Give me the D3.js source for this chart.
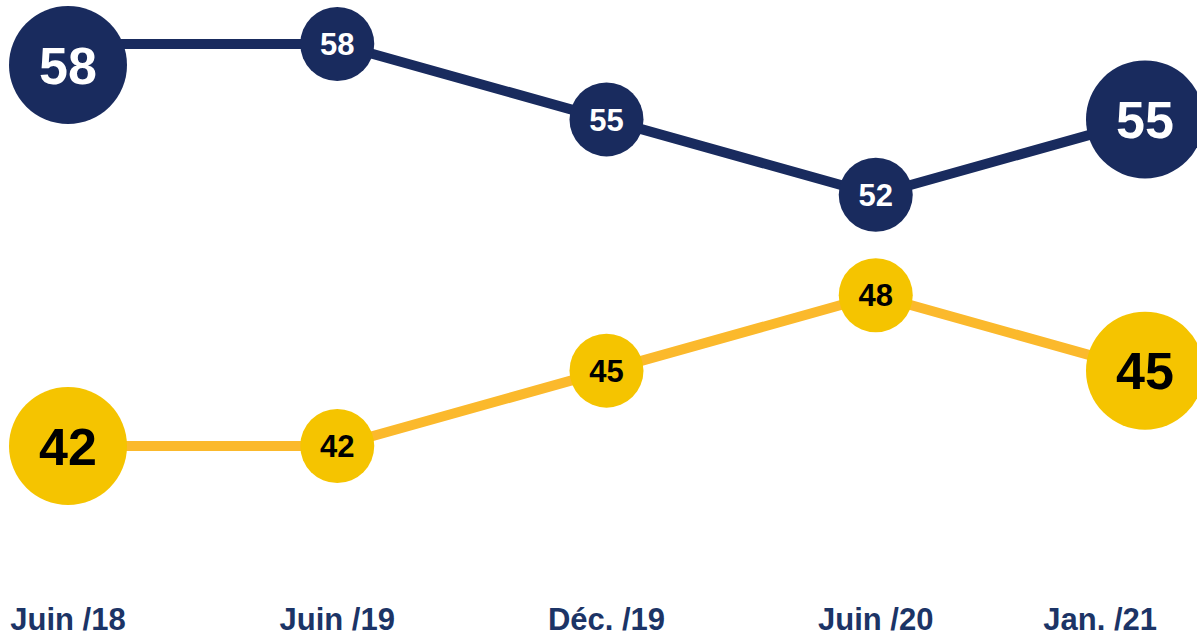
<!DOCTYPE html>
<html>
<head>
<meta charset="utf-8">
<script src="https://cdn.jsdelivr.net/npm/d3@7"></script>
<style>
    html, body { margin: 0; padding: 0; background: #ffffff; }
    svg { display: block; }
</style>
</head>
<body>
<div id="chart"></div>
<script>
// data
const periods = ["Juin /18", "Juin /19", "Déc. /19", "Juin /20", "Jan. /21"];
const navyValues = [58, 58, 55, 52, 55];
const yellowValues = [42, 42, 45, 48, 45];

const width = 1197;
const height = 638;
const margin = { top: 44, right: 52, bottom: 192, left: 68 };

const navy = "#192b5e";
const yellow = "#f5c400";
const yellowLine = "#fbb92c";
const labelColor = "#1c3466";

const bigRadius = 59;
const smallRadius = 37;

const x = d3.scalePoint()
    .domain(periods)
    .range([margin.left, width - margin.right]);

const y = d3.scaleLinear()
    .domain([42, 58])
    .range([height - margin.bottom, margin.top]);

const svg = d3
    .select("div#chart")
    .append("svg")
    .attr("width", width)
    .attr("height", height);

const series = [
    { name: "navy", values: navyValues, line: navy, fill: navy, text: "#ffffff" },
    { name: "yellow", values: yellowValues, line: yellowLine, fill: yellow, text: "#000000" }
];

const line = d3.line()
    .x(d => x(d.period))
    .y(d => y(d.value));

series.forEach(s => {
    const points = s.values.map((v, i) => ({
        period: periods[i],
        value: v,
        end: i === 0 || i === periods.length - 1
    }));

    svg
        .append("path")
        .datum(points)
        .attr("d", line)
        .attr("fill", "none")
        .attr("stroke", s.line)
        .attr("stroke-width", 10)
        .attr("stroke-linejoin", "round");

    const bubbles = svg
        .append("g")
        .attr("class", "bubbles-" + s.name)
        .selectAll("g")
        .data(points)
        .join("g")
        .attr("transform", d => {
            const r = d.end ? bigRadius : smallRadius;
            // keep the end bubbles inside the picture
            const cy = Math.max(y(d.value), r + 6);
            return "translate(" + x(d.period) + "," + cy + ")";
        });

    bubbles
        .append("circle")
        .attr("r", d => d.end ? bigRadius : smallRadius)
        .attr("fill", s.fill);

    bubbles
        .append("text")
        .text(d => d.value)
        .attr("text-anchor", "middle")
        .attr("dy", "0.36em")
        .attr("font-family", "Liberation Sans, Arial, sans-serif")
        .attr("font-weight", "bold")
        .attr("font-size", d => d.end ? 52 : 31)
        .attr("fill", s.text);
});

// period labels along the bottom
const labels = svg
    .append("g")
    .attr("class", "periods")
    .selectAll("text")
    .data(periods)
    .join("text")
    .text(d => d)
    .attr("y", height - 8)
    .attr("text-anchor", "middle")
    .attr("font-family", "Liberation Sans, Arial, sans-serif")
    .attr("font-weight", "bold")
    .attr("font-size", 31)
    .attr("fill", labelColor);

labels.attr("x", function(d) {
    const half = this.getComputedTextLength() / 2;
    return Math.min(Math.max(x(d), half + 6), width - 40 - half);
});
</script>
</body>
</html>
